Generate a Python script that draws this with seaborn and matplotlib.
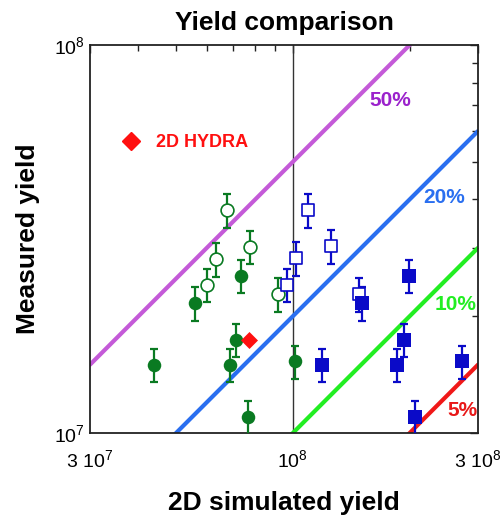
import matplotlib
matplotlib.use("Agg")
import matplotlib.pyplot as plt
from matplotlib.ticker import FixedLocator, NullFormatter
from matplotlib.lines import Line2D
import numpy as np
import pandas as pd
import seaborn as sns

# ---- data ----
# green filled circles
gf_x = [4.39e7, 5.58e7, 6.87e7, 7.14e7, 7.36e7, 7.66e7, 1.011e8]
gf_y = [1.50e7, 2.16e7, 1.50e7, 1.74e7, 2.54e7, 1.10e7, 1.53e7]
gf_err = [0.15e7, 0.22e7, 0.15e7, 0.17e7, 0.25e7, 0.11e7, 0.15e7]
# green open circles
go_x = [6.78e7, 6.32e7, 5.99e7, 7.76e7, 9.17e7]
go_y = [3.75e7, 2.81e7, 2.41e7, 3.02e7, 2.28e7]
go_err = [0.37e7, 0.28e7, 0.24e7, 0.30e7, 0.23e7]
# blue open squares
bo_x = [1.096e8, 1.251e8, 1.019e8, 9.67e7, 1.481e8]
bo_y = [3.75e7, 3.03e7, 2.82e7, 2.41e7, 2.28e7]
bo_err = [0.37e7, 0.30e7, 0.28e7, 0.24e7, 0.23e7]
# blue filled squares
bf_x = [1.191e8, 1.507e8, 1.992e8, 1.934e8, 1.858e8, 2.729e8, 2.068e8]
bf_y = [1.50e7, 2.16e7, 2.54e7, 1.74e7, 1.50e7, 1.53e7, 1.10e7]
bf_err = [0.15e7, 0.22e7, 0.25e7, 0.17e7, 0.15e7, 0.15e7, 0.11e7]
# 2D HYDRA
hydra_x = [7.69e7]
hydra_y = [1.74e7]

# ratio lines: measured = ratio * simulated
ratios = [0.5, 0.2, 0.1, 0.05]
ratio_labels = ["50%", "20%", "10%", "5%"]
line_colors = ["#c45ad8", "#2a6ff0", "#22ee22", "#f01818"]
text_colors = ["#9b22cc", "#2a6ff0", "#22ee22", "#e81818"]
# label positions in axes fraction
label_pos = [(0.773, 0.858), (0.912, 0.608), (0.943, 0.33), (0.959, 0.059)]

green = "#0a7a22"
blue = "#0a0ac8"

sns.set_style("white")
plt.rcParams["font.family"] = ["Liberation Sans", "DejaVu Sans"]
plt.rcParams["mathtext.default"] = "regular"
plt.rcParams["text.color"] = "black"
plt.rcParams["axes.labelcolor"] = "black"
plt.rcParams["xtick.labelcolor"] = "black"
plt.rcParams["ytick.labelcolor"] = "black"

fig = plt.figure(figsize=(5.03, 5.16), dpi=100)
ax = fig.add_axes([90 / 503, 1 - 433 / 516, 388 / 503, 388 / 516])

xmin, xmax = 3e7, 3e8
ymin, ymax = 1e7, 1e8

# ratio lines
xs = np.array([xmin, xmax])
for r, c in zip(ratios, line_colors):
    df = pd.DataFrame({"x": xs, "y": r * xs})
    sns.lineplot(data=df, x="x", y="y", color=c, linewidth=3.0, ax=ax, zorder=2)

for (tx, ty), lab, c in zip(label_pos, ratio_labels, text_colors):
    ax.text(tx, ty, lab, color=c, fontsize=15, fontweight="bold",
            ha="center", va="center", zorder=3, transform=ax.transAxes)

# vertical line at 1e8
ax.axvline(1e8, color="#333333", linewidth=1.0, zorder=1)

# error bars
for x, y, e, c in [(gf_x, gf_y, gf_err, green), (go_x, go_y, go_err, green),
                   (bo_x, bo_y, bo_err, blue), (bf_x, bf_y, bf_err, blue)]:
    ax.errorbar(x, y, yerr=e, fmt="none", ecolor=c, elinewidth=1.6,
                capsize=2.8, capthick=1.6, zorder=4)

# markers
sns.scatterplot(x=gf_x, y=gf_y, marker="o", s=95, color=green, edgecolor=green,
                linewidth=0, ax=ax, zorder=5)
sns.scatterplot(x=go_x, y=go_y, marker="o", s=85, facecolor="white",
                edgecolor=green, linewidth=1.2, ax=ax, zorder=5)
sns.scatterplot(x=bo_x, y=bo_y, marker="s", s=85, facecolor="white",
                edgecolor=blue, linewidth=1.2, ax=ax, zorder=5)
sns.scatterplot(x=bf_x, y=bf_y, marker="s", s=100, color=blue, edgecolor=blue,
                linewidth=0, ax=ax, zorder=5)
sns.scatterplot(x=hydra_x, y=hydra_y, marker="D", s=75, color="#ff1010",
                edgecolor="#ff1010", linewidth=0, ax=ax, zorder=6)

ax.set_xscale("log")
ax.set_yscale("log")
ax.set_xlim(xmin, xmax)
ax.set_ylim(ymin, ymax)

# legend
handle = Line2D([], [], marker="D", color="#ff1010", linestyle="none", markersize=9)
leg = ax.legend([handle], ["2D HYDRA"], loc="upper left", bbox_to_anchor=(0.04, 0.812),
                frameon=False, handletextpad=0.9, handlelength=1.0,
                prop={"weight": "bold", "size": 13})
for t in leg.get_texts():
    t.set_color("#ff1010")

# ticks
ax.xaxis.set_major_locator(FixedLocator([3e7, 1e8, 3e8]))
ax.xaxis.set_minor_locator(FixedLocator([4e7, 5e7, 6e7, 7e7, 8e7, 9e7, 2e8]))
ax.set_xticklabels([r"3 10$^{7}$", r"10$^{8}$", r"3 10$^{8}$"])
ax.xaxis.set_minor_formatter(NullFormatter())
ax.yaxis.set_major_locator(FixedLocator([1e7, 1e8]))
ax.yaxis.set_minor_locator(FixedLocator([2e7, 3e7, 4e7, 5e7, 6e7, 7e7, 8e7, 9e7]))
ax.set_yticklabels([r"10$^{7}$", r"10$^{8}$"])
ax.yaxis.set_minor_formatter(NullFormatter())
ax.tick_params(which="both", direction="in", top=True, right=True, labelsize=14,
               color="#222222", width=1.0)
ax.tick_params(which="major", length=6)
ax.tick_params(which="minor", length=4)
ax.tick_params(axis="x", which="major", pad=12)
ax.tick_params(axis="y", which="major", pad=4)

for s in ax.spines.values():
    s.set_color("#222222")
    s.set_linewidth(1.3)
    s.set_visible(True)

ax.set_title("Yield comparison", fontsize=19, fontweight="bold", pad=11)
ax.set_xlabel("2D simulated yield", fontsize=19, fontweight="bold", labelpad=14)
ax.set_ylabel("Measured yield", fontsize=19, fontweight="bold", labelpad=10)

fig.savefig("out.png", dpi=100)
